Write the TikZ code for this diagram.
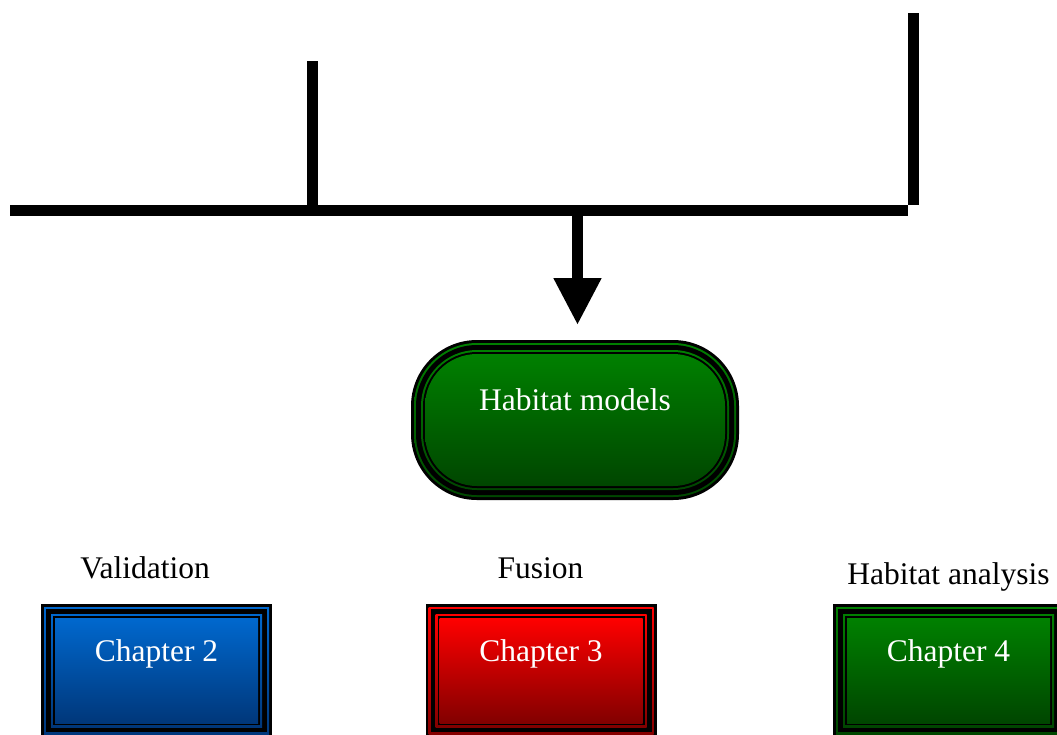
\documentclass[tikz,border=0pt]{standalone}
\usepackage{fontspec}
\setmainfont{Liberation Serif}
\usetikzlibrary{arrows.meta}
\definecolor{bluetop}{HTML}{0068CE}
\definecolor{bluebot}{HTML}{00377A}
\definecolor{redtop}{HTML}{FF0000}
\definecolor{redbot}{HTML}{820000}
\definecolor{greentop}{HTML}{008000}
\definecolor{greenbot}{HTML}{004600}
\newcommand\lay[3]{\path[#3, rounded corners=#2pt] ([shift={(#1pt,-#1pt)}]path picture bounding box.north west) rectangle ([shift={(-#1pt,#1pt)}]path picture bounding box.south east);}
\tikzset{
  bar/.style={line width=11pt},
  bigtext/.style={font=\fontsize{31.5}{36}\selectfont},
  caption/.style={bigtext, text=black, anchor=base, inner sep=0pt},
  chapterbox/.style n args={2}{fill=black, minimum width=231pt, minimum height=133pt,
    inner sep=0pt, outer sep=0pt, bigtext, text=white, text height=22pt, text depth=41pt,
    path picture={\lay{3}{0}{top color=#1,bottom color=#2}\lay{5}{0}{fill=black}%
      \lay{10}{0}{top color=#1,bottom color=#2}\lay{12}{0}{fill=black}%
      \lay{14}{0}{top color=#1,bottom color=#2}}},
  pill/.style n args={2}{fill=black, rounded corners=66pt, minimum width=328pt, minimum height=160pt,
    inner sep=0pt, outer sep=0pt, bigtext, text=white, text height=22pt, text depth=41pt,
    path picture={\lay{3}{63}{top color=#1,bottom color=#2}\lay{5}{61}{fill=black}%
      \lay{10}{56}{top color=#1,bottom color=#2}\lay{12}{54}{fill=black}%
      \lay{14}{52}{top color=#1,bottom color=#2}}},
}
\begin{document}
\begin{tikzpicture}[x=1pt,y=-1pt]
\useasboundingbox (0,0) rectangle (1057,734);
% nodes
\node[pill={greentop}{greenbot}] (hab) at (575,420) {Habitat models};
\node[chapterbox={bluetop}{bluebot}] (ch2) at (156.5,670.5) {Chapter 2};
\node[chapterbox={redtop}{redbot}] (ch3) at (541,670.5) {Chapter 3};
\node[chapterbox={greentop}{greenbot}] (ch4) at (948.5,670.5) {Chapter 4};
\node[caption] (val) at (145,578) {Validation};
\node[caption] (fus) at (540.5,578) {Fusion};
\node[caption] (ana) at (948.5,584) {Habitat analysis};
% connector lines
\coordinate (L) at (10,210);
\coordinate (R) at (907.5,210);
\coordinate (T1) at (312.5,61);
\coordinate (J1) at (312.5,210);
\coordinate (T2) at (913,13);
\coordinate (B2) at (913,205);
\coordinate (J2) at (577.5,210);
\draw[bar] (L) -- (R);
\draw[bar] (T1) -- (J1);
\draw[bar] (T2) -- (B2);
\draw[bar, shorten >=15pt, -{Triangle[width=45pt,length=47pt]}] (J2) -- (J2 |- hab.north);
\end{tikzpicture}
\end{document}
